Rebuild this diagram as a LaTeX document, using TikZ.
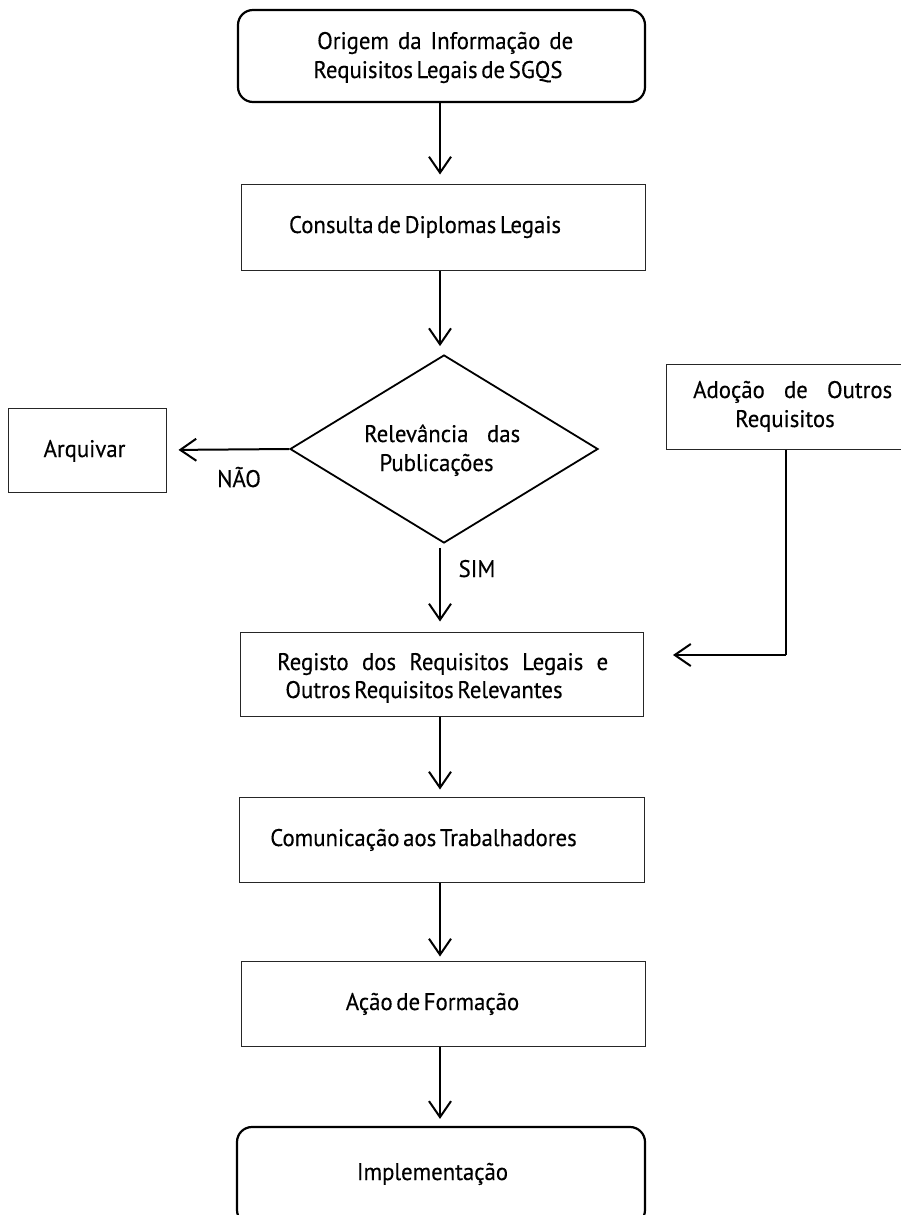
\documentclass[tikz,border=0pt]{standalone}
\usepackage{fontspec}
\setmainfont{PT Sans}[FakeStretch=0.95,WordSpace=0.6,FakeBold=0.3]
\usetikzlibrary{arrows.meta,shapes.geometric}
\begin{document}
\begin{tikzpicture}[x=1pt,y=-1pt,
  box/.style={draw=black!85,line width=1pt,rectangle,inner sep=0pt},
  rbox/.style={draw=black,line width=2.2pt,rectangle,rounded corners=15pt,inner sep=0pt},
  dia/.style={draw=black,line width=1.8pt,diamond,inner sep=0pt},
  txt/.style={font=\fontsize{24}{28}\selectfont,inner sep=0pt,anchor=base},
  jtxt/.style={txt,anchor=base west},
  flow/.style={line width=2pt,-{Straight Barb[length=16pt,width=22pt]}},
  feed/.style={line width=1.3pt},
]
\useasboundingbox (0,0) rectangle (901,1215);
\clip (0,0) rectangle (901,1215);

% main column axis
\coordinate (axis) at (440,0);

% shapes
\node[rbox,minimum width=407pt,minimum height=92pt] (origem) at (441.5,56) {};
\node[box,minimum width=404pt,minimum height=86pt] (consulta) at (443,227) {};
\node[dia,minimum width=308pt,minimum height=188pt] (relev) at (444,449) {};
\node[box,minimum width=158pt,minimum height=84pt] (arquivar) at (87,450) {};
\node[box,minimum width=240pt,minimum height=85pt] (adocao) at (786,406.5) {};
\node[box,minimum width=403pt,minimum height=84pt] (registo) at (441.5,674) {};
\node[box,minimum width=405pt,minimum height=85pt] (comunic) at (441.5,839.5) {};
\node[box,minimum width=404pt,minimum height=85pt] (acao) at (443,1003.5) {};
\node[rbox,minimum width=408pt,minimum height=98pt] (implem) at (441,1176) {};

% texts
\node[jtxt] (t1a) at (317,49) {\makebox[256pt][s]{Origem da Informação de}};
\node[txt] (t1b) at (438,78) {Requisitos Legais de SGQS};
\node[txt] (t2) at (425,233) {Consulta de Diplomas Legais};
\node[jtxt] (t3a) at (364,442) {\makebox[156pt][s]{Relevância das}};
\node[txt] (t3b) at (436.5,471) {Publicações};
\node[txt] (t4) at (84.5,457) {Arquivar};
\node[jtxt] (t5a) at (693,398) {\makebox[199pt][s]{Adoção de Outros}};
\node[txt] (t5b) at (785,427) {Requisitos};
\node[jtxt] (t6a) at (277,670) {\makebox[331pt][s]{Registo dos Requisitos Legais e}};
\node[txt] (t6b) at (424,698) {Outros Requisitos Relevantes};
\node[txt] (t7) at (423.5,846) {Comunicação aos Trabalhadores};
\node[txt] (t8) at (432.5,1010) {Ação de Formação};
\node[txt] (t9) at (432.5,1180) {Implementação};
\node[txt] (nao) at (239,487) {NÃO};
\node[txt] (sim) at (477,577) {SIM};

% connectors
\draw[flow,shorten >=9pt] (origem.south -| axis) -- (consulta.north -| axis);
\draw[flow,shorten >=8pt] (consulta.south -| axis) -- (relev.north -| axis);
\draw[flow,shorten >=12pt] (relev.west) -- (arquivar.east);
\draw[flow,shorten <=4pt,shorten >=10pt] (relev.south -| axis) -- (registo.north -| axis);
\draw[flow,shorten >=7pt] (registo.south -| axis) -- (comunic.north -| axis);
\draw[flow,shorten >=4pt] (comunic.south -| axis) -- (acao.north -| axis);
\draw[flow,shorten >=7pt] (acao.south -| axis) -- (implem.north -| axis);

% feed-in from the side box
\coordinate (bend) at (786,655);
\coordinate (entry) at (673,655);
\draw[feed] (adocao.south) -- (bend);
\draw[flow] (bend) -- (entry);
\end{tikzpicture}
\end{document}
